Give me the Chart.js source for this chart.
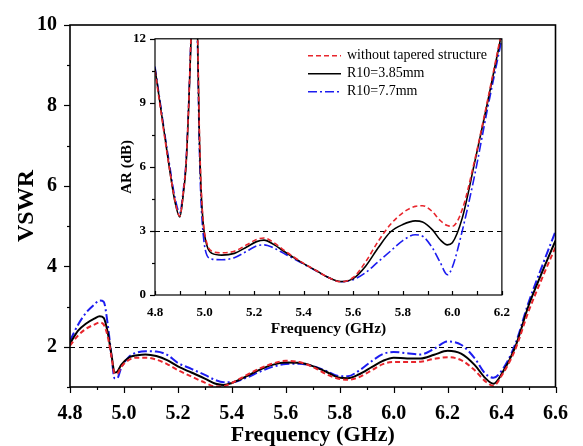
<!DOCTYPE html>
<html>
<head>
<meta charset="utf-8">
<script src="https://cdn.jsdelivr.net/npm/chart.js@4.4.1/dist/chart.umd.min.js"></script>
<style>
  html, body { margin: 0; padding: 0; background: #fff; }
  #wrap { position: relative; width: 583px; height: 446px; }
  #main { position: absolute; left: 0; top: 0; }
  #inset { position: absolute; left: 110px; top: 22px; }
</style>
</head>
<body>
<div id="wrap">
  <canvas id="main" width="583" height="446"></canvas>
  <canvas id="inset" width="410" height="320"></canvas>
</div>
<script>
// series (same order in both plots)
const seriesNames = ['without tapered structure', 'R10=3.85mm', 'R10=7.7mm'];
const seriesColors = ['#e8262d', '#000000', '#1c1cf0'];
const seriesDash = [[5, 3], [], [9, 3, 2, 3]];

// main plot: VSWR vs frequency (GHz)
const vswrFreq = [4.80, 4.83, 4.86, 4.89, 4.91, 4.925, 4.94, 4.955, 4.965, 4.975, 4.99, 5.02, 5.05, 5.08,
  5.12, 5.16, 5.20, 5.25, 5.30, 5.34, 5.37, 5.40, 5.45, 5.50, 5.55, 5.60, 5.65, 5.70, 5.75, 5.80,
  5.83, 5.87, 5.92, 5.96, 6.00, 6.05, 6.10, 6.15, 6.20, 6.25, 6.30, 6.34, 6.37, 6.40, 6.45, 6.50, 6.55, 6.60];
const vswrNoTaper = [2.03, 2.28, 2.45, 2.55, 2.60, 2.55, 2.25, 1.70, 1.34, 1.33, 1.50, 1.68, 1.73, 1.73,
  1.68, 1.57, 1.42, 1.26, 1.11, 1.01, 1.02, 1.10, 1.28, 1.45, 1.58, 1.65, 1.62, 1.50, 1.32, 1.20,
  1.18, 1.24, 1.42, 1.57, 1.62, 1.62, 1.63, 1.70, 1.74, 1.67, 1.42, 1.14, 1.03, 1.28, 1.92, 2.88, 3.70, 4.48];
const vswrR385 = [2.08, 2.40, 2.58, 2.70, 2.76, 2.72, 2.35, 1.75, 1.36, 1.38, 1.55, 1.74, 1.79, 1.81,
  1.77, 1.67, 1.51, 1.36, 1.21, 1.08, 1.05, 1.10, 1.25, 1.42, 1.55, 1.61, 1.60, 1.52, 1.38, 1.23,
  1.22, 1.31, 1.50, 1.65, 1.73, 1.71, 1.71, 1.80, 1.90, 1.83, 1.55, 1.22, 1.08, 1.32, 1.98, 3.02, 3.85, 4.64];
const vswrR77 = [2.15, 2.55, 2.85, 3.05, 3.15, 3.12, 2.55, 1.70, 1.22, 1.22, 1.48, 1.76, 1.86, 1.89,
  1.88, 1.80, 1.60, 1.45, 1.30, 1.17, 1.12, 1.12, 1.22, 1.37, 1.50, 1.57, 1.58, 1.52, 1.40, 1.27,
  1.27, 1.40, 1.65, 1.82, 1.87, 1.84, 1.81, 1.95, 2.13, 2.05, 1.72, 1.33, 1.23, 1.40, 2.05, 3.10, 4.00, 4.87];
const vswrLimit = 2;
const freqTickLabels = ['4.8', '5.0', '5.2', '5.4', '5.6', '5.8', '6.0', '6.2', '6.4', '6.6'];
const vswrTickLabels = [2, 4, 6, 8, 10];

// inset: axial ratio (dB) vs frequency (GHz)
const arFreq = [4.80, 4.82, 4.84, 4.86, 4.88, 4.90, 4.915, 4.925, 4.935, 4.945, 4.955, 4.965, 4.972, 4.978,
  4.985, 4.995, 5.01, 5.03, 5.07, 5.12, 5.17, 5.21, 5.24, 5.28, 5.32, 5.36, 5.40, 5.45, 5.50, 5.55,
  5.60, 5.65, 5.70, 5.75, 5.80, 5.85, 5.88, 5.92, 5.95, 5.98, 6.00, 6.04, 6.09, 6.14, 6.20];
const arNoTaper = [10.5, 8.9, 7.3, 5.8, 4.45, 3.7, 4.9, 6.1, 8.6, 12.0, 15.0, 14.5, 12.2, 8.3,
  5.4, 3.4, 2.4, 2.05, 1.98, 2.05, 2.35, 2.6, 2.67, 2.45, 2.1, 1.78, 1.48, 1.15, 0.82, 0.62,
  0.82, 1.55, 2.5, 3.3, 3.85, 4.15, 4.18, 3.9, 3.5, 3.25, 3.22, 4.0, 6.3, 9.0, 12.4];
const arR385 = [10.6, 9.0, 7.4, 5.8, 4.4, 3.65, 4.8, 6.0, 8.5, 11.8, 15.0, 14.5, 12.0, 8.0,
  5.2, 3.3, 2.3, 1.95, 1.87, 1.95, 2.25, 2.5, 2.57, 2.36, 2.05, 1.75, 1.47, 1.15, 0.82, 0.63,
  0.77, 1.35, 2.2, 2.95, 3.3, 3.47, 3.42, 3.05, 2.6, 2.35, 2.45, 3.6, 6.2, 8.9, 12.3];
const arR77 = [10.7, 9.1, 7.5, 6.0, 4.6, 3.85, 5.0, 6.2, 8.7, 12.0, 15.0, 14.0, 11.5, 7.4,
  4.6, 2.8, 1.85, 1.68, 1.65, 1.75, 2.05, 2.3, 2.35, 2.2, 1.95, 1.7, 1.45, 1.13, 0.82, 0.62,
  0.72, 1.05, 1.55, 2.05, 2.55, 2.82, 2.75, 2.2, 1.55, 0.95, 1.3, 3.0, 5.6, 8.6, 12.0];
const arLimit = 3;
const arFreqTickLabels = ['4.8', '5.0', '5.2', '5.4', '5.6', '5.8', '6.0', '6.2'];
const arTickLabels = [0, 3, 6, 9, 12];

const serif = '"Liberation Serif", "Times New Roman", serif';

function makeDatasets(xs, seriesList, width) {
  return seriesList.map((ys, i) => ({
    label: seriesNames[i],
    data: xs.map((x, k) => ({ x: x, y: ys[k] })),
    borderColor: seriesColors[i],
    borderDash: seriesDash[i],
    borderWidth: width,
    pointRadius: 0,
    fill: false,
    cubicInterpolationMode: 'monotone'
  }));
}

// frame, tick marks and the dashed limit line, all placed through the chart scales
function decor(cfg) {
  return {
    id: 'decor',
    beforeDraw(chart) {
      if (!cfg.whiteBg) return;
      const a = chart.chartArea;
      chart.ctx.save();
      chart.ctx.fillStyle = '#fff';
      chart.ctx.fillRect(a.left, a.top, a.width, a.height);
      chart.ctx.restore();
    },
    beforeDatasetsDraw(chart) {
      const { ctx, chartArea: a, scales: { y } } = chart;
      const py = Math.round(y.getPixelForValue(cfg.limit)) + 0.5;
      ctx.save();
      ctx.strokeStyle = '#000';
      ctx.lineWidth = 1;
      ctx.setLineDash([5, 4]);
      ctx.beginPath();
      ctx.moveTo(a.left, py);
      ctx.lineTo(a.right, py);
      ctx.stroke();
      ctx.restore();
    },
    afterDraw(chart) {
      const { ctx, chartArea: a, scales: { x, y } } = chart;
      ctx.save();
      ctx.strokeStyle = '#000';
      ctx.lineWidth = 1.2;
      x.ticks.forEach(t => {
        const px = Math.round(x.getPixelForValue(t.value)) + 0.5;
        const len = t.label !== '' ? cfg.xMajor : cfg.xMinor;
        ctx.beginPath();
        ctx.moveTo(px, a.bottom);
        ctx.lineTo(px, a.bottom + cfg.xDir * len);
        ctx.stroke();
      });
      y.ticks.forEach(t => {
        const py = Math.round(y.getPixelForValue(t.value)) + 0.5;
        const len = t.label !== '' ? cfg.yMajor : cfg.yMinor;
        ctx.beginPath();
        ctx.moveTo(a.left, py);
        ctx.lineTo(a.left - len, py);
        ctx.stroke();
      });
      ctx.lineWidth = cfg.frame;
      ctx.strokeRect(a.left, a.top, a.width, a.height);
      if (cfg.legend) {
        ctx.font = '14px ' + serif;
        ctx.textBaseline = 'middle';
        ctx.fillStyle = '#000';
        chart.data.datasets.forEach((ds, i) => {
          const ly = a.top + 17 + i * 18;
          const lx = a.left + 153;
          ctx.strokeStyle = ds.borderColor;
          ctx.lineWidth = 1.6;
          ctx.setLineDash(ds.borderDash);
          ctx.beginPath();
          ctx.moveTo(lx, ly);
          ctx.lineTo(lx + 33, ly);
          ctx.stroke();
          ctx.setLineDash([]);
          ctx.fillText(ds.label, lx + 39, ly);
        });
      }
      ctx.restore();
    }
  };
}

Chart.defaults.font.family = serif;
Chart.defaults.color = '#000';

new Chart(document.getElementById('main'), {
  type: 'line',
  data: { datasets: makeDatasets(vswrFreq, [vswrNoTaper, vswrR385, vswrR77], 2) },
  options: {
    responsive: false,
    animation: false,
    devicePixelRatio: 1,
    layout: { padding: { top: 20, right: 24, left: 0, bottom: 0 } },
    plugins: { legend: { display: false }, tooltip: { enabled: false } },
    scales: {
      x: {
        type: 'linear', min: 4.8, max: 6.6,
        grid: { display: false, drawTicks: false },
        border: { display: false },
        afterFit(s) { s.height = 59; },
        ticks: {
          stepSize: 0.1, autoSkip: false, maxRotation: 0, padding: 15,
          font: { size: 20, weight: 'bold' },
          callback: v => freqTickLabels.includes(v.toFixed(1)) ? v.toFixed(1) : ''
        },
        title: { display: true, text: 'Frequency (GHz)', font: { size: 22, weight: 'bold', lineHeight: 1 }, padding: { top: 0, bottom: 0 } }
      },
      y: {
        min: 1, max: 10,
        grid: { display: false, drawTicks: false },
        border: { display: false },
        afterFit(s) { s.width = 70; },
        ticks: {
          stepSize: 1, autoSkip: false, padding: 13,
          font: { size: 20, weight: 'bold' },
          callback: v => vswrTickLabels.includes(Math.round(v)) ? String(Math.round(v)) : ''
        },
        title: { display: true, text: 'VSWR', font: { size: 24, weight: 'bold', lineHeight: 1 }, padding: { top: 15, bottom: 0 } }
      }
    }
  },
  plugins: [decor({ limit: vswrLimit, xMajor: 6, xMinor: 3, xDir: 1, yMajor: 6, yMinor: 3, frame: 1.6 })]
});

new Chart(document.getElementById('inset'), {
  type: 'line',
  data: { datasets: makeDatasets(arFreq, [arNoTaper, arR385, arR77], 1.6) },
  options: {
    responsive: false,
    animation: false,
    devicePixelRatio: 1,
    layout: { padding: { top: 8, right: 12, left: 0, bottom: 0 } },
    plugins: { legend: { display: false }, tooltip: { enabled: false } },
    scales: {
      x: {
        type: 'linear', min: 4.8, max: 6.2,
        grid: { display: false, drawTicks: false },
        border: { display: false },
        afterFit(s) { s.height = 47; },
        ticks: {
          stepSize: 0.1, autoSkip: false, maxRotation: 0, padding: 10,
          font: { size: 13, weight: 'bold' },
          callback: v => arFreqTickLabels.includes(v.toFixed(1)) ? v.toFixed(1) : ''
        },
        title: { display: true, text: 'Frequency (GHz)', font: { size: 15.5, weight: 'bold', lineHeight: 1 }, padding: { top: 0, bottom: 5 } }
      },
      y: {
        min: 0, max: 12,
        grid: { display: false, drawTicks: false },
        border: { display: false },
        afterFit(s) { s.width = 45; },
        ticks: {
          stepSize: 1.5, autoSkip: false, padding: 9,
          font: { size: 13, weight: 'bold' },
          callback: v => arTickLabels.includes(v) ? String(v) : ''
        },
        title: { display: true, text: 'AR (dB)', font: { size: 15, weight: 'bold', lineHeight: 1 }, padding: { top: 10, bottom: 0 } }
      }
    }
  },
  plugins: [decor({ limit: arLimit, xMajor: 4, xMinor: 4, xDir: -1, yMajor: 5, yMinor: 3, frame: 1.2, whiteBg: true, legend: true })]
});
</script>
</body>
</html>
